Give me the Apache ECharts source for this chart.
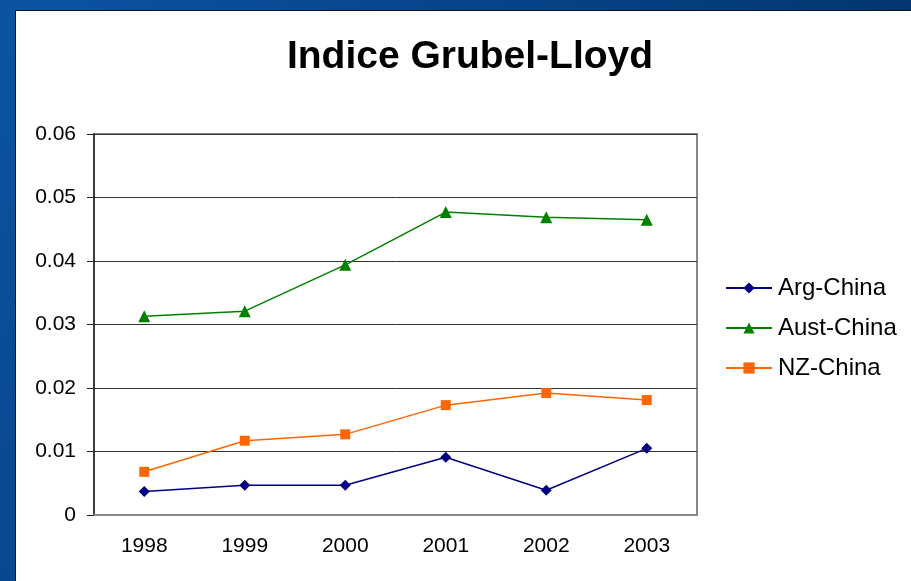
<!DOCTYPE html>
<html><head><meta charset="utf-8">
<script src="https://cdn.jsdelivr.net/npm/echarts@6/dist/echarts.min.js"></script>
<style>html,body{margin:0;padding:0;}#c{width:911px;height:581px;}</style>
</head><body><div id="c"></div>
<script>
const years = ['1998','1999','2000','2001','2002','2003'];
const argChina = [0.0037, 0.0047, 0.0047, 0.0091, 0.0039, 0.0105];
const austChina = [0.0313, 0.0321, 0.0394, 0.0477, 0.0469, 0.0465];
const nzChina = [0.0068, 0.0117, 0.0127, 0.0173, 0.0192, 0.0181];
const yTicks = [0, 0.01, 0.02, 0.03, 0.04, 0.05, 0.06];

const chart = echarts.init(document.getElementById('c'));
const font = 'Liberation Sans, Arial, sans-serif';
chart.setOption({
  animation: false,
  backgroundColor: new echarts.graphic.LinearGradient(0, 0, 1, 1, [
    {offset: 0, color: '#0b54a3'}, {offset: 1, color: '#002a5c'}]),
  graphic: [{
    type: 'rect', z: -10, silent: true,
    shape: {x: 15.5, y: 10.5, width: 910, height: 590},
    style: {fill: '#ffffff', stroke: '#111', lineWidth: 1}
  }],
  title: {
    text: 'Indice Grubel-Lloyd', left: 465, textAlign: 'center', top: 33,
    textStyle: {fontFamily: font, fontSize: 39, fontWeight: 'bold', color: '#000'}
  },
  legend: {
    orient: 'vertical', left: 720, top: 269, itemWidth: 46, itemHeight: 14, itemGap: 12,
    textStyle: {fontFamily: font, fontSize: 24, color: '#000', lineHeight: 28, padding: [0,0,0,1]},
    data: ['Arg-China', 'Aust-China', 'NZ-China']
  },
  grid: {left: 94, top: 134, width: 603, height: 381, show: true, borderColor: '#888', borderWidth: 2, backgroundColor: 'transparent'},
  xAxis: {
    type: 'category', data: years, boundaryGap: true,
    axisLine: {lineStyle: {color: '#888', width: 2}},
    axisTick: {show: false},
    axisLabel: {fontFamily: font, fontSize: 21, color: '#000', margin: 21}
  },
  yAxis: {
    type: 'value', min: 0, max: 0.06, interval: 0.01,
    axisLine: {show: true, lineStyle: {color: '#222', width: 1.5}},
    axisTick: {show: true, length: 7, lineStyle: {color: '#222'}},
    splitLine: {lineStyle: {color: '#333', width: 1}},
    axisLabel: {fontFamily: font, fontSize: 21, color: '#000', margin: 18,
      formatter: v => { const t = yTicks.find(x => Math.abs(x - v) < 1e-9); return t === 0 ? '0' : String(+v.toFixed(2)); }}
  },
  series: [
    {name: 'Arg-China', type: 'line', data: argChina, symbol: 'diamond', symbolSize: 11,
     lineStyle: {color: '#000080', width: 1.5}, itemStyle: {color: '#000080'}},
    {name: 'Aust-China', type: 'line', data: austChina, symbol: 'triangle', symbolSize: 12,
     lineStyle: {color: '#008000', width: 1.5}, itemStyle: {color: '#008000'}},
    {name: 'NZ-China', type: 'line', data: nzChina, symbol: 'rect', symbolSize: 10,
     lineStyle: {color: '#ff6600', width: 1.5}, itemStyle: {color: '#ff6600'}}
  ]
});
</script></body></html>
